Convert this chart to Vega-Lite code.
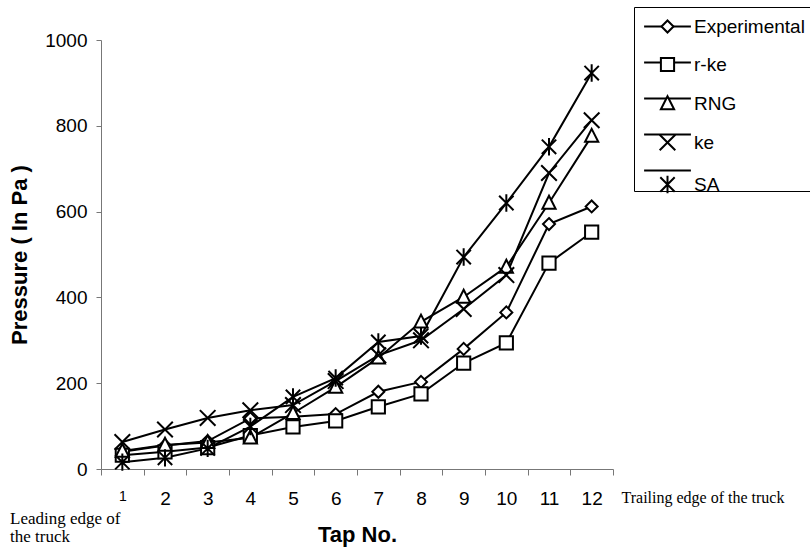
{
  "$schema": "https://vega.github.io/schema/vega-lite/v6.json",
  "width": 512,
  "height": 429,
  "autosize": {"type": "none"},
  "padding": {"left": 101, "top": 40, "right": 197, "bottom": 80},
  "background": "white",
  "config": {"view": {"stroke": null}, "font": "Liberation Sans"},
  "title": {
    "text": ["Leading edge of", " the truck"],
    "orient": "bottom",
    "anchor": "start",
    "frame": "group",
    "font": "Liberation Serif",
    "fontSize": 17,
    "fontWeight": "normal",
    "color": "black",
    "lineHeight": 18,
    "baseline": "top",
    "dx": -91,
    "dy": -38
  },
  "data": {"values": [
    {"tap": 1, "model": "Experimental", "pressure": 40},
    {"tap": 2, "model": "Experimental", "pressure": 55},
    {"tap": 3, "model": "Experimental", "pressure": 65},
    {"tap": 4, "model": "Experimental", "pressure": 118},
    {"tap": 5, "model": "Experimental", "pressure": 122},
    {"tap": 6, "model": "Experimental", "pressure": 128},
    {"tap": 7, "model": "Experimental", "pressure": 180},
    {"tap": 8, "model": "Experimental", "pressure": 203},
    {"tap": 9, "model": "Experimental", "pressure": 280},
    {"tap": 10, "model": "Experimental", "pressure": 365},
    {"tap": 11, "model": "Experimental", "pressure": 571},
    {"tap": 12, "model": "Experimental", "pressure": 612},
    {"tap": 1, "model": "r-ke", "pressure": 32},
    {"tap": 2, "model": "r-ke", "pressure": 40},
    {"tap": 3, "model": "r-ke", "pressure": 50},
    {"tap": 4, "model": "r-ke", "pressure": 78},
    {"tap": 5, "model": "r-ke", "pressure": 98},
    {"tap": 6, "model": "r-ke", "pressure": 112},
    {"tap": 7, "model": "r-ke", "pressure": 145},
    {"tap": 8, "model": "r-ke", "pressure": 175},
    {"tap": 9, "model": "r-ke", "pressure": 247},
    {"tap": 10, "model": "r-ke", "pressure": 294},
    {"tap": 11, "model": "r-ke", "pressure": 480},
    {"tap": 12, "model": "r-ke", "pressure": 552},
    {"tap": 1, "model": "RNG", "pressure": 42},
    {"tap": 2, "model": "RNG", "pressure": 56},
    {"tap": 3, "model": "RNG", "pressure": 62},
    {"tap": 4, "model": "RNG", "pressure": 73},
    {"tap": 5, "model": "RNG", "pressure": 130},
    {"tap": 6, "model": "RNG", "pressure": 191},
    {"tap": 7, "model": "RNG", "pressure": 259},
    {"tap": 8, "model": "RNG", "pressure": 343},
    {"tap": 9, "model": "RNG", "pressure": 401},
    {"tap": 10, "model": "RNG", "pressure": 471},
    {"tap": 11, "model": "RNG", "pressure": 620},
    {"tap": 12, "model": "RNG", "pressure": 776},
    {"tap": 1, "model": "ke", "pressure": 63},
    {"tap": 2, "model": "ke", "pressure": 92},
    {"tap": 3, "model": "ke", "pressure": 119},
    {"tap": 4, "model": "ke", "pressure": 137},
    {"tap": 5, "model": "ke", "pressure": 149},
    {"tap": 6, "model": "ke", "pressure": 205},
    {"tap": 7, "model": "ke", "pressure": 265},
    {"tap": 8, "model": "ke", "pressure": 300},
    {"tap": 9, "model": "ke", "pressure": 373},
    {"tap": 10, "model": "ke", "pressure": 452},
    {"tap": 11, "model": "ke", "pressure": 690},
    {"tap": 12, "model": "ke", "pressure": 813},
    {"tap": 1, "model": "SA", "pressure": 16},
    {"tap": 2, "model": "SA", "pressure": 26},
    {"tap": 3, "model": "SA", "pressure": 48},
    {"tap": 4, "model": "SA", "pressure": 99},
    {"tap": 5, "model": "SA", "pressure": 168},
    {"tap": 6, "model": "SA", "pressure": 212},
    {"tap": 7, "model": "SA", "pressure": 296},
    {"tap": 8, "model": "SA", "pressure": 310},
    {"tap": 9, "model": "SA", "pressure": 494},
    {"tap": 10, "model": "SA", "pressure": 620},
    {"tap": 11, "model": "SA", "pressure": 751},
    {"tap": 12, "model": "SA", "pressure": 923}
  ]},
  "encoding": {
    "x": {
      "field": "tap", "type": "quantitative",
      "scale": {"domain": [0.5, 12.5], "nice": false, "zero": false},
      "axis": {
        "values": [0.5, 1.5, 2.5, 3.5, 4.5, 5.5, 6.5, 7.5, 8.5, 9.5, 10.5, 11.5, 12.5],
        "labelExpr": "datum.value < 12 ? format(datum.value + 0.5, 'd') : 'Trailing edge of the truck'",
        "labelOffset": {"expr": "datum.value == 12.5 ? 8 : 21.33"},
        "labelAlign": {"expr": "datum.value == 12.5 ? 'left' : 'center'"},
        "labelFont": {"expr": "datum.value == 12.5 ? 'Liberation Serif' : 'Liberation Sans'"},
        "labelFontSize": {"expr": "datum.value == 0.5 ? 14 : datum.value == 12.5 ? 16 : 19"},
        "labelOverlap": false,
        "labelFlush": false,
        "labelBound": false,
        "labelLimit": 400,
        "labelColor": "black",
        "labelPadding": 14,
        "tickSize": 6,
        "tickColor": "#777",
        "domainColor": "#777",
        "grid": false,
        "title": "Tap No.",
        "titleFontSize": 22,
        "titleFontWeight": "bold",
        "titleColor": "black",
        "titlePadding": 16
      }
    },
    "y": {
      "field": "pressure", "type": "quantitative",
      "scale": {"domain": [0, 1000], "nice": false},
      "axis": {
        "values": [0, 200, 400, 600, 800, 1000],
        "format": "d",
        "labelFontSize": 19,
        "labelColor": "black",
        "labelPadding": 9,
        "tickSize": 5,
        "tickColor": "#777",
        "domainColor": "#777",
        "grid": false,
        "title": "Pressure ( In Pa )",
        "titleFontSize": 22,
        "titleFontWeight": "bold",
        "titleColor": "black",
        "titlePadding": 13
      }
    }
  },
  "layer": [
    {
      "mark": {"type": "line", "strokeWidth": 2},
      "encoding": {
        "color": {
          "field": "model", "type": "nominal",
          "sort": ["Experimental", "r-ke", "RNG", "ke", "SA"],
          "scale": {"range": ["black", "black", "black", "black", "black"]},
          "legend": {
            "title": null,
            "orient": "none",
            "legendX": 533,
            "legendY": -33,
            "zindex": 0,
            "strokeColor": "black",
            "padding": 10,
            "labelFont": "Liberation Sans",
            "labelFontSize": 19,
            "labelColor": "black",
            "labelOpacity": 0,
            "rowPadding": 16,
            "symbolOffset": 14,
            "labelOffset": 17,
            "symbolType": "M-3.9,0L3.9,0",
            "symbolSize": 144,
            "symbolStrokeWidth": 2
          }
        }
      }
    },
    {
      "mark": {"type": "point", "stroke": "black", "strokeWidth": 2, "size": 144, "fill": "white", "fillOpacity": 1, "opacity": 1},
      "encoding": {
        "shape": {
          "field": "model", "type": "nominal",
          "scale": {
            "domain": ["Experimental", "r-ke", "RNG", "ke", "SA"],
            "range": [
              "M0,-1L1,0L0,1L-1,0Z",
              "M-1.1,-1.1L1.1,-1.1L1.1,1.1L-1.1,1.1Z",
              "M0,-1.2L1.1,0.95L-1.1,0.95Z",
              "M-1.3,-1.3L1.3,1.3M-1.3,1.3L1.3,-1.3",
              "M-1.2,-1.2L1.2,1.2M-1.2,1.2L1.2,-1.2M0,-1.45L0,1.45"
            ]
          },
          "legend": {
            "title": null,
            "orient": "none",
            "legendX": 533,
            "legendY": -33,
            "zindex": 1,
            "padding": 10,
            "labelFont": "Liberation Sans",
            "labelFontSize": 19,
            "labelColor": "black",
            "rowPadding": 16,
            "symbolOffset": 14,
            "labelOffset": 17,
            "symbolSize": 144,
            "symbolStrokeWidth": 2
          }
        }
      }
    }
  ]
}
